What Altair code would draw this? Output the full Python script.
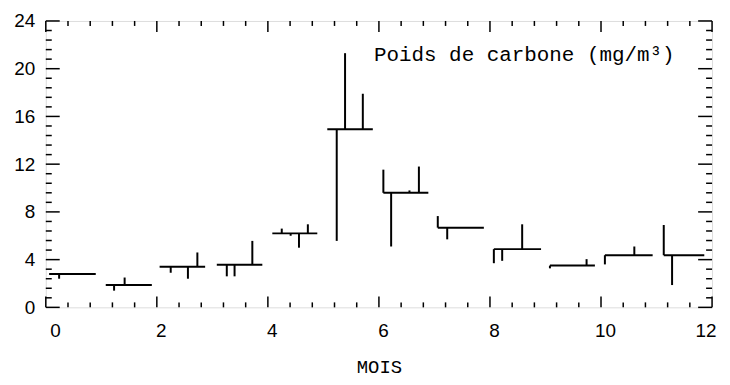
import altair as alt
import pandas as pd

# Monthly mean (horizontal segments)
month_start = [0.06, 1.08, 2.05, 3.08, 4.08, 5.07, 6.08, 7.06, 8.07, 9.08, 10.07, 11.13]
month_end = [0.90, 1.91, 2.87, 3.90, 4.89, 5.89, 6.89, 7.89, 8.92, 9.89, 10.93, 11.86]
month_mean = [2.8, 1.87, 3.4, 3.57, 6.2, 14.93, 9.6, 6.68, 4.88, 3.5, 4.37, 4.37]

# Individual samples (vertical lines from the monthly mean to the sample value)
sample_month = [0, 1, 1, 2, 2, 2, 3, 3, 3, 4, 4, 4, 4, 5, 5, 5, 6, 6, 6, 6, 7, 7, 8, 8, 8, 9, 9, 10, 10, 11, 11]
sample_x = [0.24, 1.23, 1.42, 2.25, 2.56, 2.73, 3.26, 3.40, 3.72, 4.25, 4.41, 4.56, 4.72,
            5.24, 5.39, 5.71, 6.08, 6.22, 6.55, 6.72, 7.06, 7.23, 8.07, 8.22, 8.58,
            9.08, 9.74, 10.07, 10.60, 11.13, 11.28]
sample_value = [2.4, 1.4, 2.5, 2.9, 2.4, 4.6, 2.6, 2.6, 5.57, 6.6, 6.0, 5.0, 6.96,
                5.57, 21.3, 17.9, 11.54, 5.1, 9.8, 11.8, 7.65, 5.7, 3.7, 3.9, 6.96,
                3.27, 4.04, 3.6, 5.1, 6.9, 1.87]

x_major = [0, 2, 4, 6, 8, 10, 12]
x_minor = [round(i * 0.4, 2) for i in range(31) if i % 5]
y_major = [0, 4, 8, 12, 16, 20, 24]
y_minor = [round(i * 0.8, 2) for i in range(31) if i % 5]

annotation = "Poids de carbone (mg/m³)"
x_title = "MOIS"

W, H = 670, 288
xs = alt.Scale(domain=[0, 12], nice=False, zero=False)
ys = alt.Scale(domain=[0, 24], nice=False, zero=False)

x_axis = alt.Axis(values=x_major, title=x_title, domain=False, ticks=False, grid=False,
                  labelFontSize=19, labelFont="Liberation Sans", labelColor="black",
                  labelPadding=14, labelOffset=4, labelAngle=0,
                  titleFont="Liberation Mono", titleFontSize=19, titleFontWeight="normal",
                  titleColor="black", titlePadding=18)
y_axis = alt.Axis(values=y_major, title=None, domain=False, ticks=False, grid=False,
                  labelFontSize=19, labelFont="Liberation Sans", labelColor="black",
                  labelPadding=11)

seg_df = pd.DataFrame({"start": month_start, "end": month_end, "mean": month_mean})
samp_df = pd.DataFrame({
    "x": sample_x,
    "value": sample_value,
    "mean": [month_mean[m] for m in sample_month],
})

segments = alt.Chart(seg_df).mark_rule(color="black", strokeWidth=2).encode(
    x=alt.X("start:Q", scale=xs, axis=x_axis),
    x2="end:Q",
    y=alt.Y("mean:Q", scale=ys, axis=y_axis),
)

samples = alt.Chart(samp_df).mark_rule(color="black", strokeWidth=2).encode(
    x=alt.X("x:Q", scale=xs, axis=x_axis),
    y=alt.Y("mean:Q", scale=ys, axis=y_axis),
    y2="value:Q",
)


def xticks(vals, length, top):
    df = pd.DataFrame({"v": vals})
    if top:
        y1, y2 = 0, length
    else:
        y1, y2 = H, H - length
    return alt.Chart(df).mark_rule(color="black", strokeWidth=1.5).encode(
        x=alt.X("v:Q", scale=xs, axis=x_axis),
        y=alt.value(y1), y2=alt.value(y2))


def yticks(vals, length, right):
    df = pd.DataFrame({"v": vals})
    if right:
        x1, x2 = W, W - length
    else:
        x1, x2 = 0, length
    return alt.Chart(df).mark_rule(color="black", strokeWidth=1.5).encode(
        y=alt.Y("v:Q", scale=ys, axis=y_axis),
        x=alt.value(x1), x2=alt.value(x2))


ticks = [
    xticks(x_major, 11, False), xticks(x_minor, 5, False),
    xticks(x_major, 11, True), xticks(x_minor, 5, True),
    yticks(y_major, 14, False), yticks(y_minor, 6, False),
    yticks(y_major, 14, True), yticks(y_minor, 6, True),
]

label = alt.Chart(pd.DataFrame({"t": [annotation]})).mark_text(
    align="left", baseline="alphabetic", font="Liberation Mono", fontSize=21, color="black"
).encode(x=alt.value(330), y=alt.value(40), text="t:N")

chart = alt.layer(segments, samples, *ticks, label).properties(
    width=W, height=H,
    autosize=alt.AutoSizeParams(type="none"),
    padding={"left": 38, "top": 12, "right": 10, "bottom": 70},
).configure_view(stroke="black", strokeWidth=2).configure(background="white")

chart.save("out.html", embed_options={"renderer": "svg", "actions": False})
